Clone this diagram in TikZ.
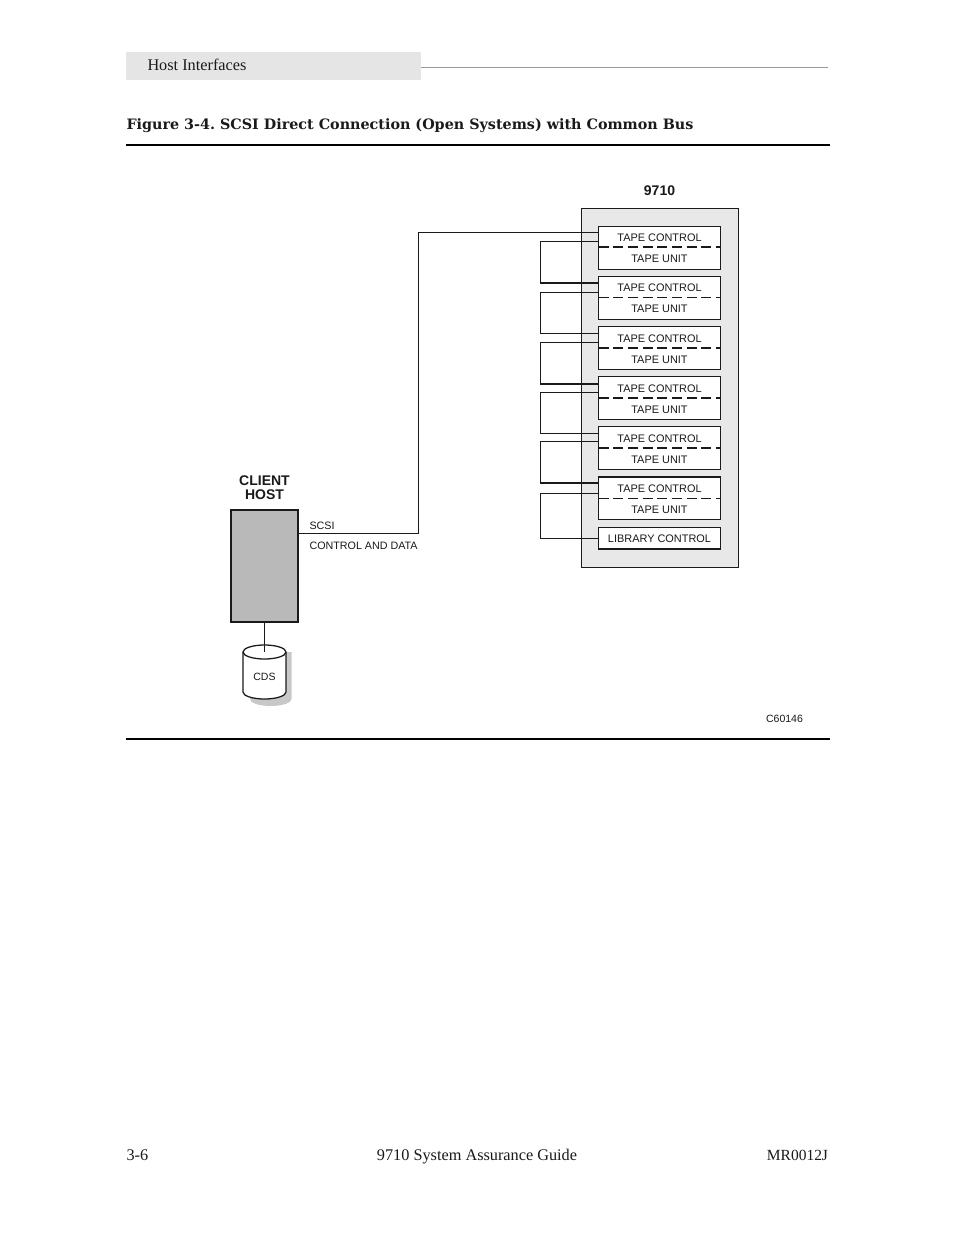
\documentclass[tikz,border=0pt]{standalone}
\usepackage{fontspec}
\setmainfont{Liberation Serif}
\newfontfamily\hv{Liberation Sans}
\newfontfamily\ttlfont{DejaVu Serif}
\definecolor{band}{HTML}{E5E5E5}
\definecolor{cabinet}{HTML}{E8E8E8}
\definecolor{hostgray}{HTML}{B9B9B9}
\definecolor{cdsshadow}{HTML}{C8C8C8}
\definecolor{ink}{HTML}{1A1A1A}
\tikzset{
  every node/.append style={outer sep=0pt},
  wire/.style={draw=ink,line width=0.85pt},
  box/.style={draw=ink,fill=white,line width=0.85pt,rectangle,inner sep=0pt,minimum width=91.5pt,anchor=north west},
  lab/.style={inner sep=0pt,anchor=base,text=ink,font=\hv\fontsize{8.2}{9}\selectfont},
  lablft/.style={lab,anchor=base west,font=\hv\fontsize{8.05}{9}\selectfont},
  head/.style={inner sep=0pt,anchor=base,text=ink,font=\hv\bfseries\fontsize{10.5}{11}\selectfont},
  page/.style={inner sep=0pt,text=ink,font=\fontsize{12.2}{14}\selectfont},
  rulebar/.style={draw=black,line width=1.5pt},
  dashline/.style={draw=ink,line width=0.85pt,dash pattern=on 7.5pt off 3.5pt}
}
% #1 name, #2 top, #3 bottom, #4 dash y
\newcommand{\tapeunit}[4]{%
  \pgfmathsetmacro{\hh}{(#3-#2)*0.75}
  \node[box,minimum height=\hh pt] (#1) at (598.5,#2) {};
  \coordinate (#1d) at (598.5,#4);
  \coordinate (#1e) at (720.5,#4);
  \draw[dashline] (#1d) -- (#1e);
  \node[lab] (#1c) at (659.5,#4-5.8) {TAPE CONTROL};
  \node[lab] (#1u) at (659.5,#4+15.3) {TAPE UNIT};
}
\newcommand{\portat}[2]{\coordinate (#1) at (598.5,#2);}
\begin{document}
\begin{tikzpicture}[x=0.75pt,y=-0.75pt]
\useasboundingbox[fill=white] (0,0) rectangle (954,1235);
% page furniture
\fill[band] (126,52) rectangle (421,80);
\node[page,anchor=base west] (hdr) at (147.5,70.5) {Host Interfaces};
\coordinate (hrA) at (421,67.5);
\coordinate (hrB) at (828,67.5);
\draw[draw=black!40,line width=0.6pt] (hrA) -- (hrB);
\node[inner sep=0pt,anchor=base west,text=ink,font=\ttlfont\bfseries\fontsize{10.75}{16}\selectfont] (ttl) at (126.5,129)
  {\frenchspacing Figure 3-4. SCSI Direct Connection (Open Systems) with Common Bus};
\coordinate (r1a) at (126,145); \coordinate (r1b) at (830,145);
\coordinate (r2a) at (126,739); \coordinate (r2b) at (830,739);
\draw[rulebar] (r1a) -- (r1b);
\draw[rulebar] (r2a) -- (r2b);
\node[page,anchor=base west] (fl) at (126.5,1160) {3-6};
\node[page,anchor=base] (fc) at (477,1160) {9710 System Assurance Guide};
\node[page,anchor=base east,font=\fontsize{11.6}{14}\selectfont] (fr) at (828,1160) {MR0012J};
% cabinet
\node[head] (t9710) at (659.5,195) {9710};
\node[draw=ink,fill=cabinet,line width=0.85pt,inner sep=0pt,rectangle,anchor=north west,minimum width=117.75pt,minimum height=269.25pt] (cab) at (581.5,208.5) {};
% ports
\portat{p0}{232.5}
\portat{a1}{241.5}\portat{b1}{283}
\portat{a2}{292.5}\portat{b2}{333.5}
\portat{a3}{342.5}\portat{b3}{384}
\portat{a4}{392.5}\portat{b4}{433.5}
\portat{a5}{441.5}\portat{b5}{483}
\portat{a6}{493.5}\portat{b6}{538.5}
\coordinate (busx) at (540.5,300);
\foreach \i in {1,...,6}{
  \draw[wire] (a\i) -- (busx |- a\i) -- (busx |- b\i) -- (b\i);
}
% tape units
\tapeunit{t1}{226.5}{269.5}{247}
\tapeunit{t2}{276.5}{319.5}{297.5}
\tapeunit{t3}{326.5}{369.5}{348}
\tapeunit{t4}{376.5}{419.5}{398}
\tapeunit{t5}{426.5}{469.5}{448}
\tapeunit{t6}{477}{519.5}{498.5}
\node[box,minimum height=16.1pt] (lib) at (598.5,527.5) {};
\node[lab] (libt) at (659.5,542.5) {LIBRARY CONTROL};
% host
\node[head] (cl) at (264.5,485) {CLIENT};
\node[head] (hs) at (264.5,499) {HOST};
\node[draw=ink,fill=hostgray,line width=1.3pt,rectangle,inner sep=0pt,anchor=north west,minimum width=50.25pt,minimum height=84pt] (host) at (231,510) {};
\coordinate (hp) at (host.east |- 0,533.5);
\coordinate (bend) at (418.5,533.5);
\draw[wire] (hp) -- (bend) |- (p0);
\node[lablft] (scsi) at (309.5,529) {SCSI};
\node[lablft] (cad) at (309.5,549) {CONTROL AND DATA};
% cds
\fill[cdsshadow] (250,652) -- (291.5,652) -- (291.5,699) arc[start angle=0,end angle=180,x radius=20.75,y radius=7] -- cycle;
\draw[fill=white,draw=ink,line width=0.95pt] (243,652) -- (243,692) arc[start angle=180,end angle=0,x radius=21.5,y radius=7] -- (286,652) arc[start angle=0,end angle=-180,x radius=21.5,y radius=7] -- cycle;
\draw[draw=ink,line width=0.95pt] (243,652) arc[start angle=180,end angle=0,x radius=21.5,y radius=7];
\coordinate (cdsc) at (264.5,652);
\coordinate (hb) at (host.south -| cdsc);
\draw[wire] (hb) -- (cdsc);
\node[lab,font=\hv\fontsize{7.9}{9}\selectfont] (cds) at (264.5,680) {CDS};
\node[lab,font=\hv\fontsize{7.9}{9}\selectfont] (cnum) at (784.5,722) {C60146};
\end{tikzpicture}
\end{document}
